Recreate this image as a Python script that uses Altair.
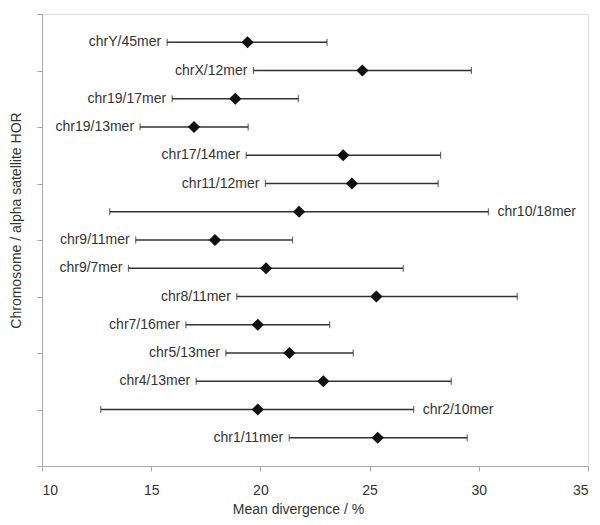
import altair as alt
import pandas as pd

labels = ["chr1/11mer", "chr2/10mer", "chr4/13mer", "chr5/13mer", "chr7/16mer",
          "chr8/11mer", "chr9/7mer", "chr9/11mer", "chr10/18mer", "chr11/12mer",
          "chr17/14mer", "chr19/13mer", "chr19/17mer", "chrX/12mer", "chrY/45mer"]
rows = list(range(1, 16))
mean = [25.37, 19.88, 22.88, 21.33, 19.88, 25.31, 20.26, 17.92, 21.77, 24.19,
        23.79, 16.96, 18.85, 24.67, 19.41]
low = [21.32, 12.69, 17.06, 18.42, 16.59, 18.92, 13.96, 14.29, 13.10, 20.23,
       19.35, 14.49, 15.96, 19.68, 15.73]
high = [29.47, 27.02, 28.74, 24.25, 23.17, 31.76, 26.54, 21.47, 30.44, 28.14,
        28.25, 19.44, 21.74, 29.66, 23.05]
label_side = ["left", "right", "left", "left", "left", "left", "left", "left",
              "right", "left", "left", "left", "left", "left", "left"]

df = pd.DataFrame({"label": labels, "row": rows, "mean": mean,
                   "low": low, "high": high, "side": label_side})

FONT = "Liberation Sans"
TXT = "#333333"
xscale = alt.Scale(domain=[10, 35], nice=False, zero=False)
yscale = alt.Scale(domain=[0, 16], nice=False, zero=True)

base = alt.Chart(df)

x_axis = alt.Axis(values=[10, 15, 20, 25, 30, 35], grid=False, domainColor="#aaaaaa",
                  tickColor="#aaaaaa", tickSize=5, labelPadding=12, labelFontSize=14,
                  labelColor=TXT, labelFont=FONT, title="Mean divergence / %",
                  titleFont=FONT, titleFontSize=14, titleFontWeight="normal",
                  titleColor=TXT, titleX=256, titleY=36, titleBaseline="top",
                  titleAlign="center")
y_axis = alt.Axis(values=[0, 2, 4, 6, 8, 10, 12, 14, 16], labels=False, grid=False,
                  domainColor="#aaaaaa", tickColor="#aaaaaa", tickSize=5,
                  title="Chromosome / alpha satellite HOR", titleFont=FONT,
                  titleFontSize=14, titleFontWeight="normal", titleColor=TXT,
                  titleX=-19, titleY=206, titleBaseline="bottom", titleAngle=270,
                  titleAlign="center")

bars = base.mark_rule(color="#333333", strokeWidth=1.3).encode(
    x=alt.X("low:Q", scale=xscale, axis=x_axis),
    x2="high:Q",
    y=alt.Y("row:Q", scale=yscale, axis=y_axis),
)
cap_lo = base.mark_tick(orient="vertical", color="#333333", size=7, thickness=1.2).encode(
    x=alt.X("low:Q", scale=xscale), y=alt.Y("row:Q", scale=yscale))
cap_hi = base.mark_tick(orient="vertical", color="#333333", size=7, thickness=1.2).encode(
    x=alt.X("high:Q", scale=xscale), y=alt.Y("row:Q", scale=yscale))
points = base.mark_point(shape="diamond", filled=True, color="#111111", size=150,
                         opacity=1).encode(
    x=alt.X("mean:Q", scale=xscale), y=alt.Y("row:Q", scale=yscale))

left_text = base.transform_filter(alt.datum.side == "left").mark_text(
    align="right", baseline="middle", dx=-6, font=FONT, fontSize=14, color=TXT
).encode(x=alt.X("low:Q", scale=xscale), y=alt.Y("row:Q", scale=yscale), text="label:N")
right_text = base.transform_filter(alt.datum.side == "right").mark_text(
    align="left", baseline="middle", dx=9, font=FONT, fontSize=14, color=TXT
).encode(x=alt.X("high:Q", scale=xscale), y=alt.Y("row:Q", scale=yscale), text="label:N")

chart = alt.layer(bars, cap_lo, cap_hi, points, left_text, right_text).properties(
    width=546, height=452, autosize="none",
    padding={"left": 34, "top": 6, "right": 4, "bottom": 51},
).configure_view(stroke=None).configure(background="white")

chart.save("out.html", embed_options={"renderer": "svg", "actions": False})
